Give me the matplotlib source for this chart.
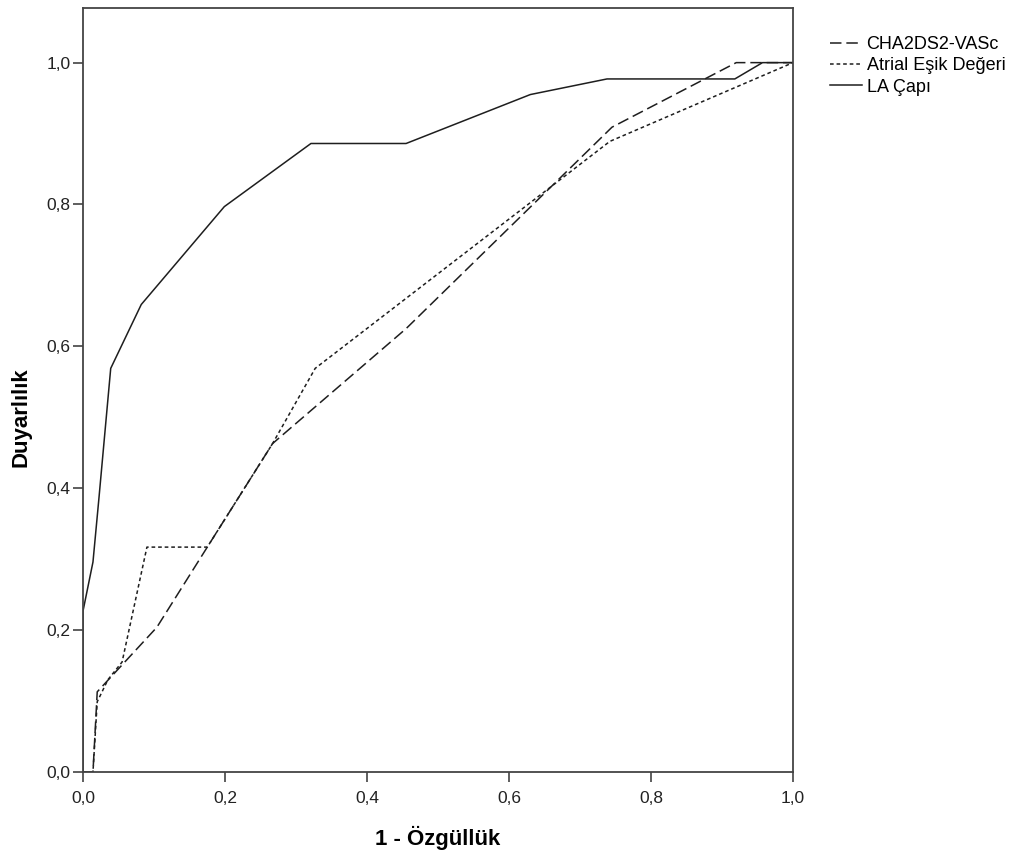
import matplotlib
matplotlib.use('Agg')
import matplotlib.pyplot as plt
from matplotlib.ticker import FuncFormatter

plt.rcParams['font.family'] = ['Liberation Sans', 'DejaVu Sans']

# ROC curves
cha_x = [0.0, 0.014, 0.020, 0.104, 0.175, 0.267, 0.455, 0.745, 0.920, 1.0]
cha_y = [0.0, 0.0, 0.113, 0.204, 0.317, 0.463, 0.625, 0.909, 1.0, 1.0]

atr_x = [0.0, 0.014, 0.020, 0.035, 0.055, 0.090, 0.175, 0.267, 0.327, 0.742, 1.0]
atr_y = [0.0, 0.0, 0.099, 0.130, 0.155, 0.317, 0.317, 0.463, 0.569, 0.889, 1.0]

la_x = [0.0, 0.0, 0.014, 0.0225, 0.039, 0.082, 0.199, 0.321, 0.455, 0.630, 0.738, 0.918, 0.957, 1.0]
la_y = [0.0, 0.227, 0.296, 0.387, 0.569, 0.659, 0.797, 0.886, 0.886, 0.955, 0.977, 0.977, 1.0, 1.0]

labels = ['CHA2DS2-VASc', 'Atrial Eşik Değeri', 'LA Çapı']
ticks = [0.0, 0.2, 0.4, 0.6, 0.8, 1.0]

fig = plt.figure(figsize=(10.2, 8.61), dpi=100)
ax = fig.add_axes([0.0814, 0.1034, 0.6961, 0.8873])

col = '#1e1e1e'
ax.plot(cha_x, cha_y, color=col, lw=1.1, dashes=(7.5, 3.2), label=labels[0])
ax.plot(atr_x, atr_y, color=col, lw=1.1, dashes=(2.4, 1.9), label=labels[1])
ax.plot(la_x, la_y, color=col, lw=1.1, label=labels[2])

ax.set_xlim(0, 1.0)
ax.set_ylim(0, 1.077)
ax.set_xticks(ticks)
ax.set_yticks(ticks)
fmt = FuncFormatter(lambda v, p: f'{v:.1f}'.replace('.', ','))
ax.xaxis.set_major_formatter(fmt)
ax.yaxis.set_major_formatter(fmt)
ax.tick_params(direction='out', length=7.5, width=1.1, color='#333333',
               labelsize=12.5, labelcolor='#222222', pad=1.5)
ax.tick_params(axis='x', pad=6.5)

for s in ax.spines.values():
    s.set_color('#444444')
    s.set_linewidth(1.3)

ax.set_xlabel('1 - Özgüllük', fontsize=16, fontweight='bold')
ax.set_ylabel('Duyarlılık', fontsize=16, fontweight='bold')
ax.xaxis.set_label_coords(0.5, -0.071)
ax.yaxis.set_label_coords(-0.072, 0.464)

leg = ax.legend(loc='upper left', bbox_to_anchor=(1.052, 0.963), frameon=False,
                fontsize=13, handlelength=1.75, handletextpad=0.28,
                labelspacing=0.23, borderaxespad=0, borderpad=0)

fig.savefig('out.png', dpi=100)
